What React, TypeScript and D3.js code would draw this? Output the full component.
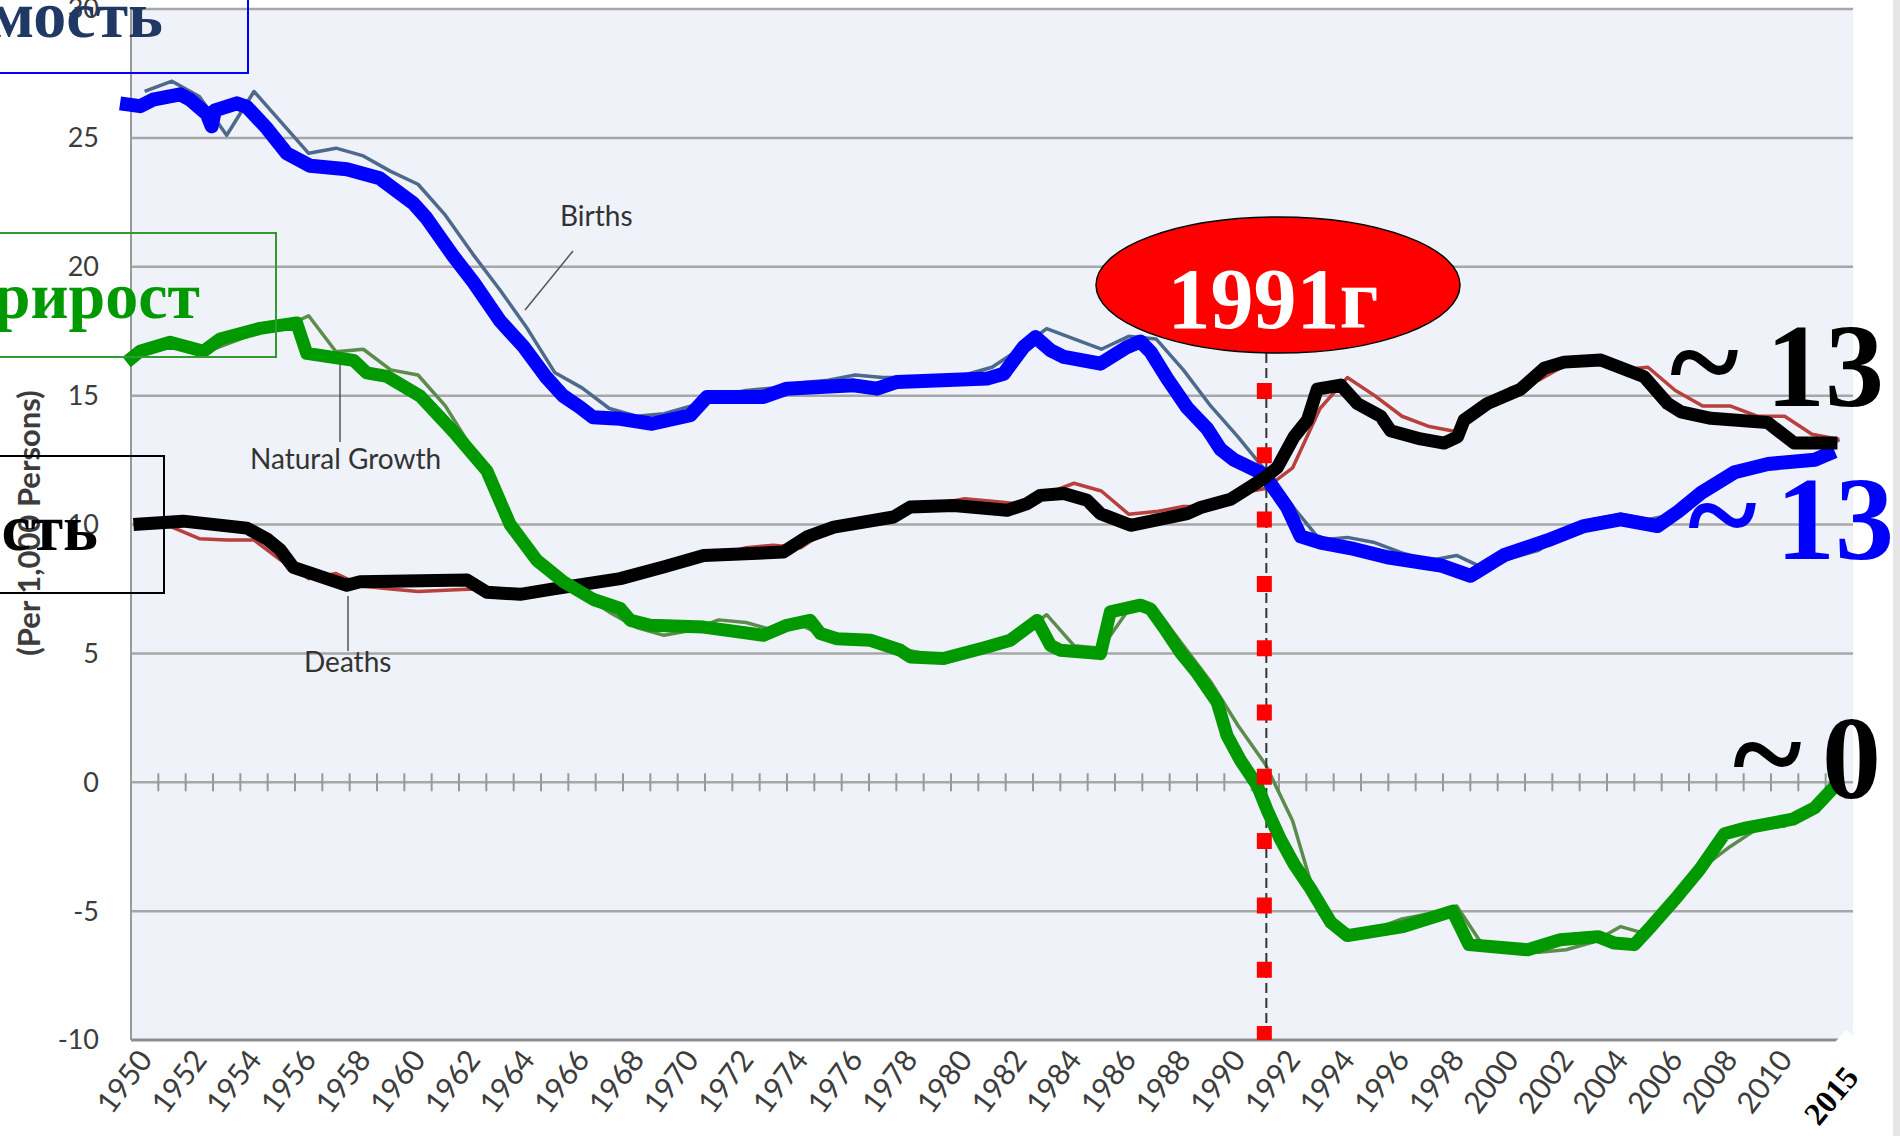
import React from 'react';
import * as d3 from 'd3';

// ---------- DATA ----------
const years = [
  1950, 1951, 1952, 1953, 1954, 1955, 1956, 1957, 1958, 1959,
  1960, 1961, 1962, 1963, 1964, 1965, 1966, 1967, 1968, 1969,
  1970, 1971, 1972, 1973, 1974, 1975, 1976, 1977, 1978, 1979,
  1980, 1981, 1982, 1983, 1984, 1985, 1986, 1987, 1988, 1989,
  1990, 1991, 1992, 1993, 1994, 1995, 1996, 1997, 1998, 1999,
  2000, 2001, 2002, 2003, 2004, 2005, 2006, 2007, 2008, 2009,
  2010, 2011, 2012,
];

// original chart series (per 1,000 persons)
const birthsOriginal = [
  26.8, 27.2, 26.6, 25.1, 26.8, 25.6, 24.4, 24.6, 24.3, 23.7,
  23.2, 22.0, 20.5, 19.1, 17.6, 15.9, 15.3, 14.5, 14.2, 14.3,
  14.6, 15.0, 15.2, 15.3, 15.5, 15.6, 15.8, 15.7, 15.7, 15.7,
  15.8, 16.1, 16.8, 17.6, 17.2, 16.8, 17.3, 17.2, 16.0, 14.6,
  13.4, 12.1, 10.7, 9.4, 9.5, 9.3, 8.9, 8.6, 8.8, 8.3,
  8.7, 9.0, 9.7, 10.2, 10.4, 10.2, 10.4, 11.3, 12.1, 12.4,
  12.5, 12.6, 13.3,
];
const deathsOriginal = [
  10.1, 9.9, 9.45, 9.4, 9.4, 8.6, 7.9, 8.1, 7.6, 7.5,
  7.4, 7.45, 7.5, 7.4, 7.2, 7.5, 7.6, 7.8, 8.0, 8.5,
  8.7, 8.8, 9.1, 9.2, 9.1, 9.8, 10.0, 10.3, 10.5, 10.8,
  11.0, 10.9, 10.8, 11.2, 11.6, 11.3, 10.4, 10.5, 10.7, 10.7,
  11.2, 11.4, 12.2, 14.5, 15.7, 15.0, 14.2, 13.8, 13.6, 14.7,
  15.3, 15.6, 16.2, 16.4, 16.0, 16.1, 15.2, 14.6, 14.6, 14.2,
  14.2, 13.5, 13.3,
];
const growthOriginal = [
  16.8, 17.0, 16.6, 17.0, 17.4, 17.6, 18.1, 16.7, 16.8, 16.0,
  15.8, 14.6, 12.9, 11.0, 9.2, 8.0, 7.3, 6.6, 6.0, 5.7,
  5.9, 6.3, 6.2, 5.9, 6.1, 5.6, 5.6, 5.4, 5.1, 4.9,
  4.9, 5.3, 5.7, 6.5, 5.3, 5.2, 6.7, 6.7, 5.3, 3.9,
  2.2, 0.7, -1.5, -5.1, -6.1, -5.7, -5.3, -5.1, -4.8, -6.4,
  -6.6, -6.6, -6.5, -6.2, -5.6, -5.9, -4.8, -3.3, -2.5, -1.8,
  -1.7, -0.9, 0.0,
];

// hand-drawn overlay traces: [year, value]
const birthsTrace: [number, number][] = [
  [1949.1, 26.34], [1949.83, 26.23], [1950.3, 26.48], [1951.3, 26.69], [1951.66, 26.48],
  [1952.27, 25.93], [1952.45, 25.45], [1952.57, 26.07], [1953.37, 26.34], [1953.74, 26.2],
  [1954.47, 25.37], [1955.2, 24.4], [1956.05, 23.92], [1957.4, 23.78], [1958.6, 23.43],
  [1959.83, 22.46], [1960.3, 21.9], [1961.3, 20.4], [1962.03, 19.4], [1963.0, 17.9],
  [1963.86, 16.9], [1964.7, 15.7], [1965.3, 15.0], [1965.9, 14.57], [1966.4, 14.16],
  [1967.4, 14.1], [1968.56, 13.91], [1969.96, 14.24], [1970.57, 14.95], [1972.64, 14.95],
  [1973.5, 15.27], [1975.94, 15.4], [1976.79, 15.27], [1977.53, 15.53], [1980.82, 15.66],
  [1981.43, 15.85], [1982.16, 16.89], [1982.59, 17.27], [1983.14, 16.76], [1983.63, 16.5],
  [1984.97, 16.24], [1985.95, 16.89], [1986.43, 17.1], [1986.8, 16.7], [1987.41, 15.66],
  [1988.14, 14.53], [1988.87, 13.72], [1989.36, 12.92], [1989.85, 12.51], [1990.95, 11.95],
  [1991.8, 10.66], [1992.29, 9.54], [1993.02, 9.3], [1994.24, 9.05], [1995.46, 8.73],
  [1997.42, 8.41], [1998.51, 8.01], [1999.73, 8.81], [2001.32, 9.38], [2002.66, 9.94],
  [2004.0, 10.2], [2005.35, 9.94], [2006.1, 10.5], [2006.95, 11.23], [2008.17, 12.03],
  [2009.39, 12.35], [2011.1, 12.51], [2011.83, 12.84],
];
const deathsTrace: [number, number][] = [
  [1949.59, 10.0], [1951.41, 10.13], [1953.74, 9.86], [1954.47, 9.44], [1954.95, 9.03],
  [1955.44, 8.34], [1957.4, 7.64], [1957.88, 7.78], [1961.79, 7.85], [1962.52, 7.37],
  [1963.74, 7.29], [1964.96, 7.5], [1967.4, 7.9], [1968.98, 8.35], [1970.45, 8.8],
  [1973.37, 8.93], [1974.23, 9.52], [1975.21, 9.9], [1977.4, 10.29], [1978.01, 10.68],
  [1979.6, 10.74], [1981.55, 10.55], [1982.29, 10.81], [1982.77, 11.13], [1983.63, 11.2],
  [1984.48, 10.94], [1984.97, 10.42], [1986.07, 9.97], [1988.14, 10.42], [1988.63, 10.66],
  [1989.73, 10.98], [1990.95, 11.79], [1991.43, 12.2], [1992.05, 13.4], [1992.54, 14.05],
  [1992.9, 15.25], [1993.76, 15.41], [1994.37, 14.69], [1995.22, 14.2], [1995.58, 13.64],
  [1996.68, 13.32], [1997.54, 13.16], [1998.03, 13.4], [1998.27, 14.05], [1999.12, 14.69],
  [2000.34, 15.25], [2001.2, 16.06], [2001.93, 16.3], [2003.27, 16.38], [2004.86, 15.73],
  [2005.72, 14.69], [2006.2, 14.37], [2007.3, 14.12], [2009.37, 13.96], [2009.86, 13.56],
  [2010.35, 13.16], [2011.93, 13.16],
];
const growthTrace: [number, number][] = [
  [1949.34, 16.3], [1949.83, 16.72], [1950.93, 17.07], [1952.15, 16.72], [1952.76, 17.2],
  [1954.22, 17.61], [1955.56, 17.82], [1955.93, 16.64], [1957.64, 16.37], [1958.13, 15.88],
  [1958.86, 15.75], [1960.08, 14.98], [1961.3, 13.6], [1962.52, 12.08], [1963.37, 10.0],
  [1964.35, 8.61], [1965.32, 7.78], [1966.42, 7.09], [1967.4, 6.74], [1967.77, 6.28],
  [1968.5, 6.09], [1970.45, 6.02], [1972.64, 5.7], [1973.5, 6.09], [1974.35, 6.28],
  [1974.72, 5.77], [1975.33, 5.57], [1976.55, 5.51], [1977.65, 5.12], [1978.01, 4.86],
  [1979.23, 4.8], [1980.82, 5.25], [1981.67, 5.51], [1982.65, 6.28], [1983.14, 5.31],
  [1983.5, 5.12], [1984.97, 4.99], [1985.33, 6.61], [1986.43, 6.87], [1986.8, 6.72],
  [1987.29, 6.0], [1987.9, 5.03], [1988.51, 4.23], [1989.24, 3.1], [1989.6, 1.81],
  [1990.09, 0.85], [1990.7, -0.12], [1991.07, -1.09], [1991.55, -2.21], [1992.05, -3.18],
  [1992.66, -4.14], [1993.39, -5.43], [1994.0, -5.95], [1996.04, -5.6], [1997.85, -5.0],
  [1998.45, -6.3], [2000.6, -6.5], [2001.79, -6.11], [2003.17, -5.99], [2003.77, -6.24],
  [2004.5, -6.3], [2005.12, -5.59], [2006.1, -4.4], [2006.9, -3.37], [2007.8, -2.0],
  [2008.6, -1.77], [2010.3, -1.43], [2011.1, -0.99], [2011.93, -0.05],
];

const yTicks = [30, 25, 20, 15, 10, 5, 0, -5, -10];
const xTickLabels = [
  1950, 1952, 1954, 1956, 1958, 1960, 1962, 1964, 1966, 1968, 1970, 1972, 1974, 1976, 1978,
  1980, 1982, 1984, 1986, 1988, 1990, 1992, 1994, 1996, 1998, 2000, 2002, 2004, 2006, 2008, 2010,
];
const markerYear = 1991;

const SERIF = '"Liberation Serif", "Times New Roman", serif';
const SANS = 'Lato, "DejaVu Sans", sans-serif';

export default function App() {
  const W = 1900, H = 1136;
  const L = 131, R = 1853, T = 9, B = 1040;

  const band = d3.scaleBand<number>().domain(years).range([L, R]).paddingInner(0).paddingOuter(0);
  const bw = band.bandwidth();
  const cx = (yr: number) => (band(yr) ?? 0) + bw / 2;
  const xt = d3.scaleLinear().domain([years[0] - 0.5, years[years.length - 1] + 0.5]).range([L, R]);
  const y = d3.scaleLinear().domain([-10, 30]).range([B, T]);

  const lineYear = d3.line<number>().x((_, i) => cx(years[i])).y((d) => y(d));
  const lineTrace = d3.line<[number, number]>().x((d) => xt(d[0])).y((d) => y(d[1]));

  const y0 = y(0);
  const mx = cx(markerYear);

  const gridColor = '#a7a7a7';
  const tickColor = '#3c3c3c';

  return (
    <svg width={W} height={H} viewBox={`0 0 ${W} ${H}`} style={{ position: 'absolute', left: 0, top: 0, display: 'block' }}>
      <rect x={0} y={0} width={W} height={H} fill="#ffffff" />
      <rect x={L} y={T} width={R - L} height={B - T} fill="#eff2f8" />

      {/* gridlines */}
      {yTicks.filter((t) => t > -10).map((t) => (
        <line key={'g' + t} x1={L} x2={R} y1={y(t)} y2={y(t)} stroke={gridColor} strokeWidth={2.5} />
      ))}
      {/* zero-line ticks */}
      {years.slice(1).map((yr) => (
        <line key={'zt' + yr} x1={band(yr)} x2={band(yr)} y1={y0 - 9} y2={y0 + 9} stroke="#999" strokeWidth={2} />
      ))}
      {/* axes */}
      <line x1={L} x2={L} y1={T} y2={B} stroke="#9a9a9a" strokeWidth={2} />
      <line x1={L} x2={R} y1={B} y2={B} stroke="#8d8d8d" strokeWidth={3} />

      {/* y tick labels */}
      {yTicks.map((t) => (
        <text key={'yl' + t} x={99} y={y(t)} dy="0.35em" textAnchor="end" fontFamily={SANS} fontSize={27} fill={tickColor}>
          {t}
        </text>
      ))}
      {/* x tick labels */}
      {xTickLabels.map((yr) => (
        <text key={'xl' + yr} transform={`translate(${cx(yr) + 9},${B + 20}) rotate(-53)`} textAnchor="end" fontFamily={SANS} fontSize={30} fill={tickColor}>
          {yr}
        </text>
      ))}
      {/* y axis title */}
      <text transform={`translate(40,523) rotate(-90)`} textAnchor="middle" fontFamily={SANS} fontWeight="bold" fontSize={31} fill="#3c3c3c">
        (Per 1,000 Persons)
      </text>

      {/* original thin series */}
      <path d={lineYear(birthsOriginal) ?? ''} fill="none" stroke="#4d6a8c" strokeWidth={3.5} strokeLinejoin="round" />
      <path d={lineYear(deathsOriginal) ?? ''} fill="none" stroke="#b8403d" strokeWidth={3.5} strokeLinejoin="round" />
      <path d={lineYear(growthOriginal) ?? ''} fill="none" stroke="#5b8c4b" strokeWidth={3.5} strokeLinejoin="round" />

      {/* series labels with leader lines */}
      <line x1={573} y1={251} x2={525} y2={310} stroke="#555" strokeWidth={1.5} />
      <text x={560} y={226} fontFamily={SANS} fontSize={28} fill="#333">Births</text>
      <line x1={340} y1={363} x2={340} y2={442} stroke="#555" strokeWidth={1.5} />
      <text x={250} y={469} fontFamily={SANS} fontSize={28} fill="#333">Natural Growth</text>
      <line x1={348} y1={596} x2={348} y2={651} stroke="#555" strokeWidth={1.5} />
      <text x={304} y={672} fontFamily={SANS} fontSize={28} fill="#333">Deaths</text>

      {/* original dashed marker line */}
      <line x1={mx + 1} x2={mx + 1} y1={353} y2={B} stroke="#333" strokeWidth={2} strokeDasharray="10 5" />

      {/* hand-drawn overlay traces */}
      <path d={lineTrace(birthsTrace) ?? ''} fill="none" stroke="#0000ff" strokeWidth={14} strokeLinejoin="round" />
      <path d={lineTrace(deathsTrace) ?? ''} fill="none" stroke="#000000" strokeWidth={13} strokeLinejoin="round" />
      <path d={lineTrace(growthTrace) ?? ''} fill="none" stroke="#009900" strokeWidth={13} strokeLinejoin="round" />

      {/* red dotted 1991 line */}
      <line x1={mx - 1} x2={mx - 1} y1={383} y2={B} stroke="#ff0000" strokeWidth={15} strokeDasharray="16 48.3" />

      {/* 1991 ellipse */}
      <ellipse cx={1278} cy={285} rx={182} ry={68} fill="#ff0000" stroke="#000" strokeWidth={1.5} />
      <text x={1273} y={328} textAnchor="middle" fontFamily={SERIF} fontWeight="bold" fontSize={86} fill="#ffffff">1991г</text>

      {/* text boxes on the left */}
      <rect x={-10} y={-10} width={258} height={83} fill="none" stroke="#0000ff" strokeWidth={2} />
      <text x={163} y={37} textAnchor="end" fontFamily={SERIF} fontWeight="bold" fontSize={66} fill="#1f3864">Рождаемость</text>
      <rect x={-10} y={233} width={286} height={124} fill="none" stroke="#339933" strokeWidth={2} />
      <text x={200} y={318} textAnchor="end" fontFamily={SERIF} fontWeight="bold" fontSize={66} fill="#009900">Естественный прирост</text>
      <rect x={-10} y={456} width={174} height={137} fill="none" stroke="#000" strokeWidth={2} />
      <text x={98} y={550} textAnchor="end" fontFamily={SERIF} fontWeight="bold" fontSize={66} fill="#000">Смертность</text>

      {/* end annotations */}
      <text x={1670} y={406} fontFamily={SERIF} fontWeight="bold" fontSize={132} fill="#000">~</text>
      <text x={1766} y={406} fontFamily={SERIF} fontWeight="bold" fontSize={118} fill="#000">13</text>
      <text x={1688} y={559} fontFamily={SERIF} fontWeight="bold" fontSize={132} fill="#0000ff">~</text>
      <text x={1776} y={559} fontFamily={SERIF} fontWeight="bold" fontSize={118} fill="#0000ff">13</text>
      <text x={1733} y={798} fontFamily={SERIF} fontWeight="bold" fontSize={132} fill="#000">~</text>
      <text x={1822} y={798} fontFamily={SERIF} fontWeight="bold" fontSize={118} fill="#000">0</text>

      {/* 2015 label */}
      <g transform={`translate(1860,1078) rotate(-50)`}>
        <rect x={-76} y={-42} width={104} height={58} fill="#ffffff" />
        <text x={0} y={0} textAnchor="end" fontFamily={SERIF} fontWeight="bold" fontSize={32} fill="#000">2015</text>
      </g>

      <rect x={1893} y={0} width={7} height={H} fill="#e6e6e6" />
    </svg>
  );
}
